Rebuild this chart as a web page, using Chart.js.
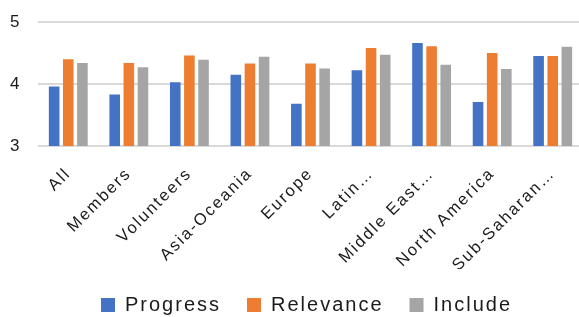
<!DOCTYPE html>
<html>
<head>
<meta charset="utf-8">
<script src="https://cdn.jsdelivr.net/npm/chart.js@4"></script>
<style>
  html, body { margin: 0; padding: 0; background: #fff; overflow: hidden; }
  #wrap { position: relative; width: 613px; height: 325px; }
</style>
</head>
<body>
<div id="wrap"><canvas id="chart"></canvas></div>
<script>
const categories = ['All', 'Members', 'Volunteers', 'Asia-Oceania', 'Europe', 'Latin…', 'Middle East…', 'North America', 'Sub-Saharan…'];
const progress  = [3.96, 3.83, 4.03, 4.15, 3.68, 4.22, 4.66, 3.71, 4.45];
const relevance = [4.40, 4.34, 4.46, 4.33, 4.33, 4.58, 4.61, 4.50, 4.45];
const include   = [4.34, 4.27, 4.39, 4.44, 4.25, 4.47, 4.31, 4.24, 4.60];
const yTicks = [3, 4, 5];

const fontFamily = '"Liberation Sans", Arial, sans-serif';

// the source chart uses slightly spaced-out lettering
const spacing = {
  id: 'spacing',
  beforeUpdate(chart) { chart.ctx.letterSpacing = '2px'; },
  beforeDraw(chart) { chart.ctx.letterSpacing = '2px'; },
  afterLayout(chart) {
    // legend in the source sits centred on the uncropped chart
    chart.legend.left += 10;
    chart.legend.right += 10;
  }
};

const ctx = document.getElementById('chart').getContext('2d');
new Chart(ctx, {
  type: 'bar',
  data: {
    labels: categories,
    datasets: [
      { label: 'Progress', data: progress, backgroundColor: '#4472C4' },
      { label: 'Relevance', data: relevance, backgroundColor: '#ED7D31' },
      { label: 'Include', data: include, backgroundColor: '#A5A5A5' }
    ]
  },
  options: {
    responsive: true,
    maintainAspectRatio: false,
    animation: false,
    layout: { padding: { top: 22, right: 30, bottom: 0, left: 10 } },
    datasets: {
      bar: { categoryPercentage: 0.7, barPercentage: 0.75 }
    },
    scales: {
      x: {
        grid: { display: false, drawTicks: false },
        border: { display: false },
        ticks: {
          color: '#1a1a1a',
          font: { family: fontFamily, size: 16.5 },
          minRotation: 45,
          maxRotation: 45,
          padding: 18,
          autoSkip: false
        },
        afterFit: function(scale) { scale.height = 123; }
      },
      y: {
        min: 3,
        max: 5,
        afterBuildTicks: function(scale) { scale.ticks = yTicks.map(v => ({ value: v })); },
        grid: { color: '#d9d9d9', lineWidth: 2, drawTicks: false },
        border: { display: false },
        ticks: {
          color: '#1a1a1a',
          font: { family: fontFamily, size: 17 },
          padding: 0,
          crossAlign: 'far'
        },
        afterFit: function(scale) { scale.width = 28; }
      }
    },
    plugins: {
      legend: {
        position: 'bottom',
        labels: {
          color: '#1a1a1a',
          font: { family: fontFamily, size: 20 },
          boxWidth: 14,
          boxHeight: 14,
          padding: 26
        }
      },
      tooltip: { enabled: false }
    }
  },
  plugins: [spacing]
});
</script>
</body>
</html>
